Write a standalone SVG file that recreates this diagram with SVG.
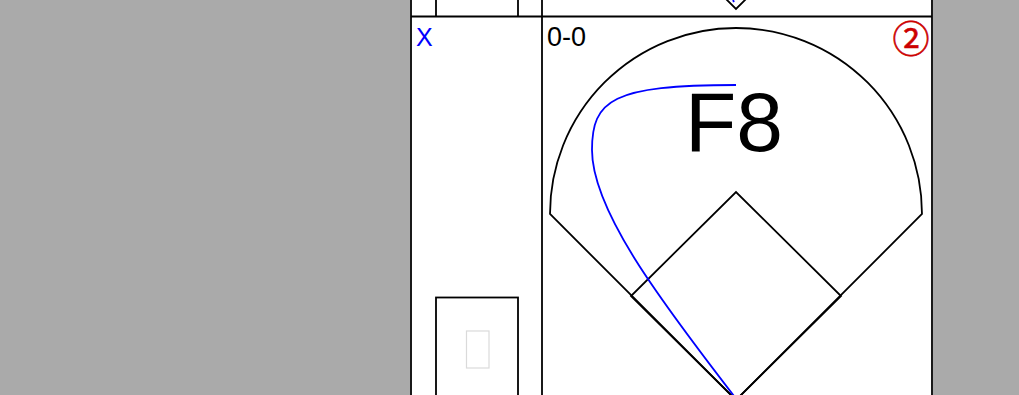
<svg xmlns="http://www.w3.org/2000/svg" width="1019" height="395" viewBox="0 0 1019 395">
<style>
.ln{fill:none;stroke:#000;stroke-width:1.8}
.bl{fill:none;stroke:#00f;stroke-width:1.8}
.t{font-family:"Liberation Sans",Arial,sans-serif}
</style>
<rect x="0" y="0" width="1019" height="395" fill="#aaaaaa"/>
<rect x="410" y="0" width="523" height="395" fill="#fff"/>
<g id="grid">
<line class="ln" x1="411" y1="0" x2="411" y2="395"/>
<line class="ln" x1="932" y1="0" x2="932" y2="395"/>
<line class="ln" x1="542" y1="0" x2="542" y2="395"/>
<line class="ln" x1="411" y1="16.5" x2="932" y2="16.5" stroke-width="2"/>
<line class="ln" x1="436" y1="0" x2="436" y2="16"/>
<line class="ln" x1="518" y1="0" x2="518" y2="16"/>
</g>
<g id="prev-field">
<polyline class="ln" points="725,-2 736,9 747,-2"/>
<line class="bl" x1="733" y1="0" x2="734" y2="2"/>
</g>
<g id="side-box">
<rect class="ln" x="436" y="297.5" width="82" height="110"/>
<rect x="466.5" y="331" width="22.5" height="37" fill="none" stroke="#dadada" stroke-width="1.2"/>
</g>
<g id="labels">
<text class="t" x="416" y="46" font-size="25" fill="#0000ff">X</text>
<text class="t" x="547" y="46" font-size="27" fill="#000">0-0</text>
<text x="911" y="53" font-size="37" fill="#cc0000" stroke="#cc0000" stroke-width="0.6" text-anchor="middle" font-family="'Noto Sans CJK JP',sans-serif">②</text>
</g>
<g id="field">
<path class="ln" d="M736,400 L550,214 A186,186 0 0 1 922,214 Z"/>
<polygon class="ln" points="736,400 841,296 736,192 631,296"/>
</g>
<g id="hit">
<path class="bl" d="M734,396 C660,300 592,210 592,150 C592,100 612,85 736,85"/>
</g>
<text class="t" x="734" y="151" font-size="84" text-anchor="middle" fill="#000">F8</text>
</svg>
